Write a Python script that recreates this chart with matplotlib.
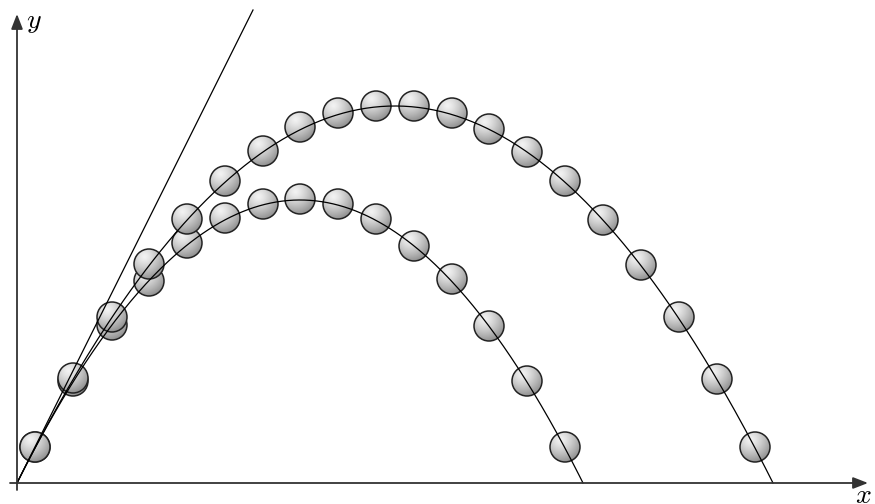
import numpy as np
import matplotlib
matplotlib.use("Agg")
import matplotlib.pyplot as plt
from matplotlib.patches import Circle

plt.rcParams['mathtext.fontset'] = 'cm'

# ball positions (origin at the launch point)
ball_x = [18, 56, 95, 132, 170, 208, 246, 283, 321, 359, 397, 435, 472, 510,
          548, 586, 624, 662, 700, 738]
ball_y_high = [36, 105, 166, 219, 264, 302, 332, 356, 370, 377, 377, 370, 354,
               331, 302, 263, 218, 166, 104, 36]
ball_y_low = [36, 102, 158, 202, 240, 265, 279, 284, 279, 264, 237, 204, 157,
              102, 36]

# trajectory parameters: landing point and top height
ranges = [756, 566]
peaks = [377, 283]
tangent_end = (236, 473)

R = 15  # ball radius

fig = plt.figure(figsize=(8.75, 5.04), dpi=100)
ax = fig.add_axes([0, 0, 1, 1])
ax.set_xlim(-17, 858)
ax.set_ylim(-21, 483)
ax.axis('off')

# shading for a ball
n = 64
gx, gy = np.meshgrid(np.linspace(-1, 1, n), np.linspace(-1, 1, n))
d = np.sqrt((gx + 0.3) ** 2 + (gy - 0.5) ** 2) / 1.6
d = np.clip(d, 0, 1)
shade = 0.95 - 0.40 * d ** 1.3

z = [2.0]


def ball(x, y):
    im = ax.imshow(shade, cmap='gray', vmin=0, vmax=1, origin='lower',
                   extent=(x - R, x + R, y - R, y + R), zorder=z[0],
                   interpolation='bilinear')
    im.set_clip_path(Circle((x, y), R, transform=ax.transData))
    c = Circle((x, y), R, facecolor='none', edgecolor='#222222', lw=1.1,
               zorder=z[0] + 0.001)
    ax.add_patch(c)
    z[0] += 0.01


for x, y in zip(ball_x[:len(ball_y_low)], ball_y_low):
    ball(x, y)
for x, y in zip(ball_x, ball_y_high):
    ball(x, y)

# trajectories
for rng, h in zip(ranges, peaks):
    xs = np.linspace(0, rng, 300)
    ys = 4 * h * xs * (rng - xs) / rng ** 2
    ax.plot(xs, ys, color='black', lw=0.9, zorder=5)

ax.plot([0, tangent_end[0]], [0, tangent_end[1]], color='black', lw=0.9, zorder=5)

# axes
ax.annotate('', xy=(851, 0), xytext=(-7, 0),
            arrowprops=dict(arrowstyle='-|>,head_length=0.9,head_width=0.35',
                            color='#333333', lw=1.3, shrinkA=0, shrinkB=0), zorder=6)
ax.annotate('', xy=(0, 469), xytext=(0, -7),
            arrowprops=dict(arrowstyle='-|>,head_length=0.9,head_width=0.35',
                            color='#333333', lw=1.3, shrinkA=0, shrinkB=0), zorder=6)
ax.text(9, 462, r'$y$', fontsize=20, ha='left', va='center')
ax.text(838, -12, r'$x$', fontsize=20, ha='left', va='center')

fig.savefig('out.png', dpi=100)
